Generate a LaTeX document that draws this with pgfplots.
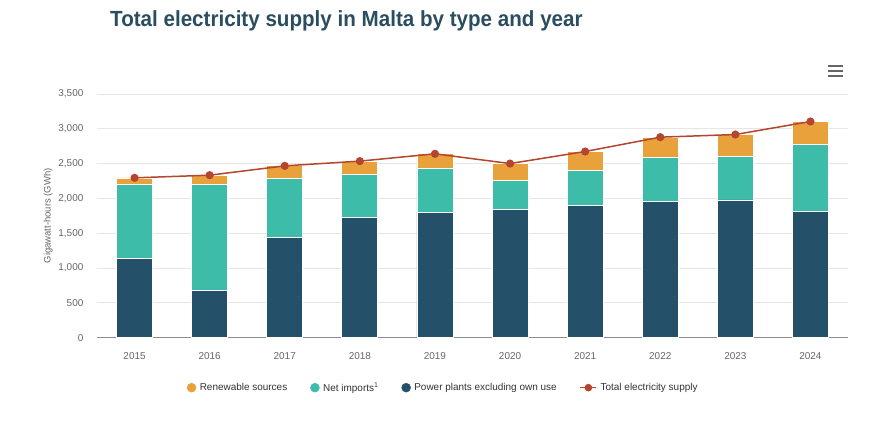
\documentclass[border=0pt]{standalone}
\usepackage{pgfplots}
\pgfplotsset{compat=1.18}
\usepackage{fontspec}
\setmainfont{Liberation Sans}
\definecolor{renew}{HTML}{E9A23B}
\definecolor{imports}{HTML}{3EBCAA}
\definecolor{power}{HTML}{24506A}
\definecolor{totalc}{HTML}{B4452E}
\definecolor{titlec}{HTML}{2A4D60}
\definecolor{gridc}{HTML}{E6E6E6}
\definecolor{tickc}{HTML}{666666}
\definecolor{axisc}{HTML}{8C8C8C}
\definecolor{legc}{HTML}{333333}
\begin{document}
\begin{tikzpicture}
\path[use as bounding box] (0bp,0bp) rectangle (882bp,423bp);
\fill[white] (0bp,0bp) rectangle (882bp,423bp);
\node[anchor=west, text=titlec, font=\fontsize{22}{26}\selectfont\bfseries, inner sep=0pt] at (110bp,402bp) {\scalebox{0.94}[1]{Total electricity supply in Malta by type and year}};
\foreach \yy in {347,352,357} \draw[line width=2.3bp, color=tickc] (828bp,\yy bp) -- (843bp,\yy bp);
\begin{axis}[
  at={(97bp,85.3bp)}, anchor=south west,
  scale only axis, width=751bp, height=243.7bp,
  ybar stacked, bar width=36bp,
  xmin=-0.5, xmax=9.5, ymin=0, ymax=3500,
  xtick={0,...,9},
  xticklabels={2015,2016,2017,2018,2019,2020,2021,2022,2023,2024},
  ytick={0,500,...,3500},
  scaled y ticks=false,
  /pgf/number format/assume math mode=true,
  /pgf/number format/1000 sep={,},
  ymajorgrids, grid style={color=gridc, line width=0.8bp},
  axis x line=bottom, axis y line=left,
  y axis line style={draw=none},
  x axis line style={color=axisc, line width=1.3bp, -},
  tick style={draw=none},
  ticklabel style={font=\fontsize{10}{12}\selectfont, text=tickc},
  yticklabel style={xshift=-8bp},
  xticklabel style={yshift=-9bp},
  ylabel={Gigawatt-hours (GWh)},
  ylabel style={at={(axis description cs:-0.065,0.5)}, anchor=center, font=\fontsize{9.5}{11}\selectfont, text=tickc},
]
\addplot[fill=power, draw=white, line width=0.8bp] coordinates {(0,1140) (1,675) (2,1443) (3,1725) (4,1802) (5,1840) (6,1903) (7,1955) (8,1979) (9,1811)};
\addplot[fill=imports, draw=white, line width=0.8bp] coordinates {(0,1065) (1,1530) (2,848) (3,624) (4,633) (5,412) (6,503) (7,632) (8,623) (9,959)};
\addplot[fill=renew, draw=white, line width=0.8bp] coordinates {(0,90) (1,125) (2,177) (3,185) (4,205) (5,245) (6,265) (7,290) (8,315) (9,330)};
\end{axis}
\begin{axis}[
  at={(97bp,85.3bp)}, anchor=south west,
  scale only axis, width=751bp, height=243.7bp,
  xmin=-0.5, xmax=9.5, ymin=0, ymax=3500,
  hide axis,
  legend style={at={(0.461,-0.205)}, anchor=center, draw=none, fill=none,
    legend columns=4, font=\fontsize{10}{12}\selectfont, text=legc,
    /tikz/every even column/.append style={column sep=21bp},
    /tikz/every odd column/.append style={column sep=1.5bp}},
]
\addlegendimage{legend image code/.code={\fill[renew] (4.5bp,0bp) circle (4.5bp);}}
\addlegendentry{Renewable sources}
\addlegendimage{legend image code/.code={\fill[imports] (4.5bp,0bp) circle (4.5bp);}}
\addlegendentry{Net imports\textsuperscript{1}}
\addlegendimage{legend image code/.code={\fill[power] (4.5bp,0bp) circle (4.5bp);}}
\addlegendentry{Power plants excluding own use}
\addplot[color=totalc, line width=1.5bp, mark=*, mark size=3.3bp, mark options={fill=totalc, draw=totalc},
  legend image code/.code={\draw[totalc, line width=1.5bp] (0bp,0bp) -- (16bp,0bp); \fill[totalc] (8bp,0bp) circle (3bp);}]
  coordinates {(0,2296) (1,2334) (2,2468) (3,2536) (4,2641) (5,2501) (6,2674) (7,2880) (8,2918) (9,3105)};
\addlegendentry{Total electricity supply}
\end{axis}
\end{tikzpicture}
\end{document}
